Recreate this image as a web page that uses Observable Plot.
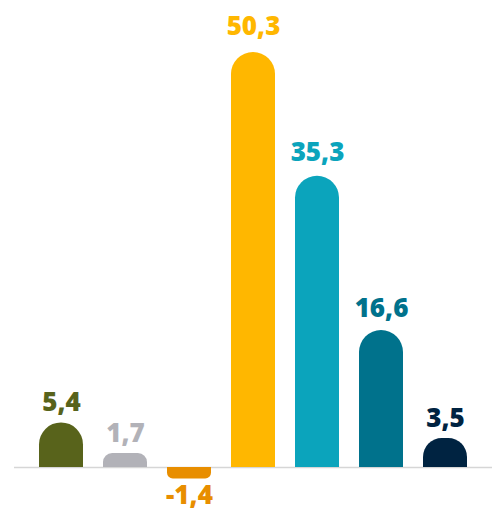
<!DOCTYPE html>
<html>
<head>
<meta charset="utf-8">
<script src="https://cdn.jsdelivr.net/npm/d3@7"></script>
<script src="https://cdn.jsdelivr.net/npm/@observablehq/plot@0.6"></script>
<style>
  html, body { margin: 0; padding: 0; background: #ffffff; }
  #chart { width: 499px; height: 509px; }
</style>
</head>
<body>
<div id="chart"></div>
<script>
const categories = ["1", "2", "3", "4", "5", "6", "7"];
const values = [5.4, 1.7, -1.4, 50.3, 35.3, 16.6, 3.5];
const colors = ["#58631b", "#b2b2b8", "#e88e00", "#ffb700", "#0ba4bc", "#00728c", "#002341"];

const data = categories.map((c, i) => ({
  cat: c,
  value: values[i],
  color: colors[i],
  label: values[i].toFixed(1).replace(".", ",")
}));

const W = 499, H = 509;
const mT = 52, mB = 42, mL = 14, mR = 7;
const xRange = [26, 479.5];
const padIn = 0.32, padOut = 0.16;
const step = (xRange[1] - xRange[0]) / (categories.length - padIn + 2 * padOut);
const bw = step * (1 - padIn);
const k = (H - mT - mB) / d3.max(values);

const barMarks = data.flatMap(d => {
  const h = Math.abs(d.value) * k;
  if (d.value >= 0) {
    const r = Math.min(bw / 2, h * 0.65);
    return [
      Plot.barY([d], {x: "cat", y: "value", fill: "color", rx: r, ry: r, insetBottom: -r, clip: true})
    ];
  }
  const r = Math.min(bw / 2, h / 2);
  return [
    Plot.barY([d], {x: "cat", y: "value", fill: "color", rx: r, ry: r}),
    Plot.barY([d], {x: "cat", y: e => e.value / 2, fill: "color"})
  ];
});

const textStyle = {fontSize: 26, fontWeight: 800, fontFamily: "Open Sans"};

const chart = Plot.plot({
  width: W,
  height: H,
  marginTop: mT,
  marginBottom: mB,
  marginLeft: mL,
  marginRight: mR,
  style: {fontFamily: "Open Sans", background: "#ffffff"},
  x: {domain: categories, range: xRange, paddingInner: padIn, paddingOuter: padOut, axis: null},
  y: {domain: [0, d3.max(values)], axis: null},
  color: {type: "identity"},
  marks: [
    Plot.ruleY([0], {stroke: "#d6d6d6", strokeWidth: 1.5}),
    ...barMarks,
    Plot.text(data.filter(d => d.value >= 0), {
      x: "cat", y: d => d.value * 1.015, text: "label", fill: "color",
      dy: -11, lineAnchor: "bottom", ...textStyle
    }),
    Plot.text(data.filter(d => d.value < 0), {
      x: "cat", y: d => d.value * 1.015, text: "label", fill: "color",
      dy: 6, lineAnchor: "top", ...textStyle
    })
  ]
});

document.getElementById("chart").appendChild(chart);
</script>
</body>
</html>
